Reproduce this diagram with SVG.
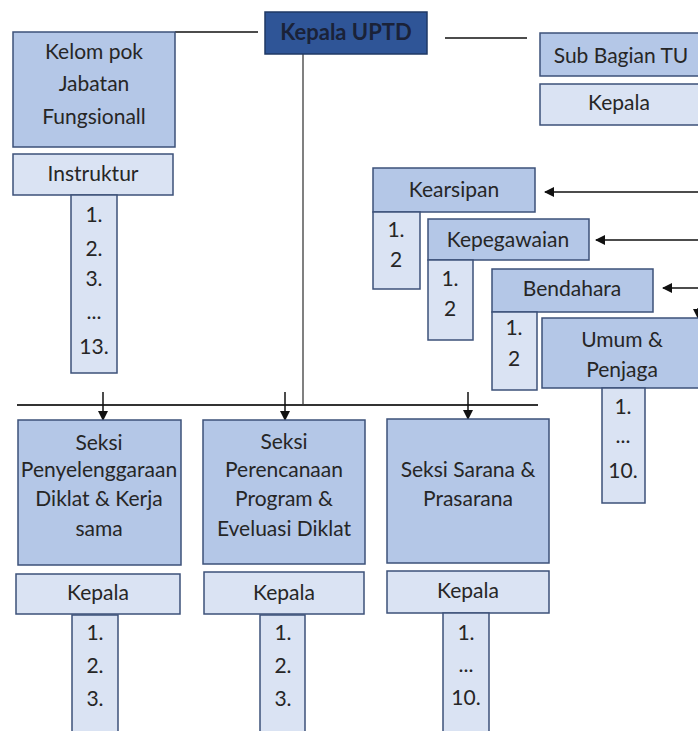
<svg xmlns="http://www.w3.org/2000/svg" width="698" height="731" viewBox="0 0 698 731">
<defs>
<marker id="ah" viewBox="0 0 10 10" refX="9" refY="5" markerWidth="11" markerHeight="10" markerUnits="userSpaceOnUse" orient="auto"><path d="M0,0 L10,5 L0,10 z" fill="#111"/></marker>
</defs>
<style>
.m{fill:#b4c7e7;stroke:#3d5179;stroke-width:1.5}
.l{fill:#dae3f3;stroke:#3d5179;stroke-width:1.5}
.top{fill:#2f5597;stroke:#1f3864;stroke-width:1.5}
text{font-family:Lato,"Open Sans","Liberation Sans",sans-serif;font-size:21px;fill:#262626;text-anchor:middle;dominant-baseline:central}
.b{font-weight:bold;fill:#1a2238;font-size:22px}
.c{stroke:#111;stroke-width:1.5;fill:none}
.g{stroke:#808080;stroke-width:2;fill:none}
.h{stroke:#333;stroke-width:2;fill:none}
</style>
<rect width="698" height="731" fill="#fff"/>
<g id="connectors">
<line class="c" x1="175" y1="32" x2="258" y2="32"/>
<line class="c" x1="445" y1="38" x2="527" y2="38"/>
<line class="g" x1="303" y1="54" x2="303" y2="405"/>
<line class="h" x1="17" y1="405" x2="538" y2="405"/>
<line class="c" x1="103" y1="392" x2="103" y2="420" marker-end="url(#ah)"/>
<line class="c" x1="285" y1="392" x2="285" y2="420" marker-end="url(#ah)"/>
<line class="c" x1="468" y1="392" x2="468" y2="419" marker-end="url(#ah)"/>
<line class="c" x1="698" y1="192" x2="545" y2="192" marker-end="url(#ah)"/>
<line class="c" x1="698" y1="240" x2="596" y2="240" marker-end="url(#ah)"/>
<line class="c" x1="698" y1="288" x2="663" y2="288" marker-end="url(#ah)"/>
<line class="c" x1="698" y1="308" x2="698" y2="318" marker-end="url(#ah)"/>
</g>
<g id="kepala-uptd">
<rect class="top" x="265" y="12" width="162" height="42"/>
<text class="b" x="346" y="31">Kepala UPTD</text>
</g>
<g id="kelompok">
<rect class="m" x="13" y="32" width="162" height="115"/>
<text x="94" y="50">Kelom pok</text>
<text x="94" y="82">Jabatan</text>
<text x="94" y="115">Fungsionall</text>
</g>
<g id="instruktur">
<rect class="l" x="13" y="154" width="160" height="41"/>
<text x="93" y="172">Instruktur</text>
</g>
<g id="instruktur-list">
<rect class="l" x="71" y="195" width="46" height="178"/>
<text x="94" y="213">1.</text>
<text x="94" y="247">2.</text>
<text x="94" y="277">3.</text>
<text x="94" y="310">...</text>
<text x="94" y="345">13.</text>
</g>
<g id="sub-bagian-tu">
<rect class="m" x="540" y="33" width="170" height="43"/>
<text x="621" y="54">Sub Bagian TU</text>
</g>
<g id="sub-bagian-kepala">
<rect class="l" x="540" y="84" width="170" height="41"/>
<text x="619" y="101">Kepala</text>
</g>
<g id="kearsipan">
<rect class="m" x="373" y="168" width="162" height="44"/>
<text x="454" y="188">Kearsipan</text>
<rect class="l" x="373" y="212" width="47" height="77"/>
<text x="396" y="228">1.</text>
<text x="396" y="258">2</text>
</g>
<g id="kepegawaian">
<rect class="m" x="428" y="219" width="161" height="41"/>
<text x="508" y="238">Kepegawaian</text>
<rect class="l" x="428" y="260" width="45" height="80"/>
<text x="450" y="277">1.</text>
<text x="450" y="307">2</text>
</g>
<g id="bendahara">
<rect class="m" x="492" y="269" width="161" height="43"/>
<text x="572" y="287">Bendahara</text>
<rect class="l" x="492" y="312" width="45" height="78"/>
<text x="514" y="326">1.</text>
<text x="514" y="357">2</text>
</g>
<g id="umum-penjaga">
<rect class="m" x="542" y="318" width="165" height="70"/>
<text x="622" y="338">Umum &amp;</text>
<text x="622" y="368">Penjaga</text>
<rect class="l" x="602" y="388" width="43" height="115"/>
<text x="623" y="405">1.</text>
<text x="623" y="434">...</text>
<text x="623" y="469">10.</text>
</g>
<g id="seksi-penyelenggaraan">
<rect class="m" x="18" y="420" width="163" height="145"/>
<text x="99" y="441">Seksi</text>
<text x="99" y="468">Penyelenggaraan</text>
<text x="99" y="497">Diklat &amp; Kerja</text>
<text x="99" y="527">sama</text>
<rect class="l" x="16" y="574" width="164" height="40"/>
<text x="98" y="591">Kepala</text>
<rect class="l" x="72" y="615" width="46" height="125"/>
<text x="95" y="631">1.</text>
<text x="95" y="664">2.</text>
<text x="95" y="697">3.</text>
</g>
<g id="seksi-perencanaan">
<rect class="m" x="203" y="420" width="162" height="144"/>
<text x="284" y="440">Seksi</text>
<text x="284" y="468">Perencanaan</text>
<text x="284" y="497">Program &amp;</text>
<text x="284" y="527">Eveluasi Diklat</text>
<rect class="l" x="204" y="572" width="160" height="42"/>
<text x="284" y="591">Kepala</text>
<rect class="l" x="260" y="615" width="45" height="125"/>
<text x="283" y="631">1.</text>
<text x="283" y="664">2.</text>
<text x="283" y="697">3.</text>
</g>
<g id="seksi-sarana">
<rect class="m" x="387" y="419" width="162" height="144"/>
<text x="468" y="468">Seksi Sarana &amp;</text>
<text x="468" y="497">Prasarana</text>
<rect class="l" x="387" y="571" width="162" height="42"/>
<text x="468" y="589">Kepala</text>
<rect class="l" x="443" y="613" width="46" height="127"/>
<text x="466" y="631">1.</text>
<text x="466" y="663">...</text>
<text x="466" y="696">10.</text>
</g>
</svg>
